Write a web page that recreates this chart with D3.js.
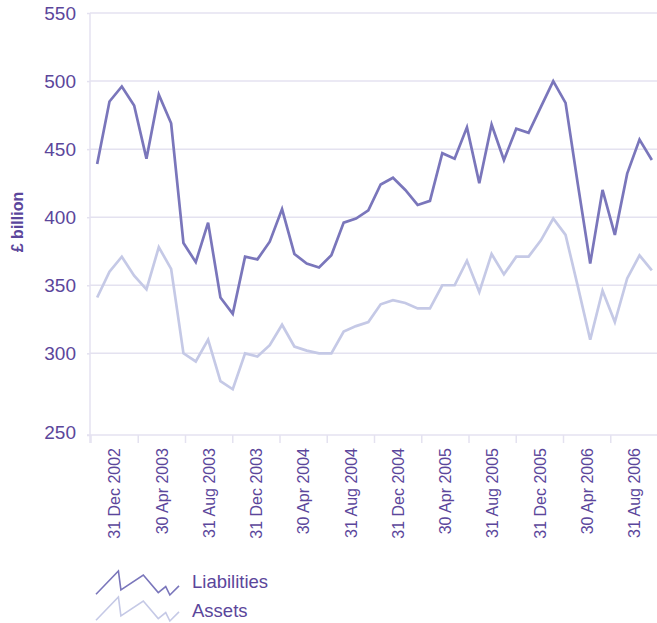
<!DOCTYPE html>
<html>
<head>
<meta charset="utf-8">
<script src="https://cdn.jsdelivr.net/npm/d3@7"></script>
<style>
  body { margin: 0; background: #fff; }
  svg text { font-family: "Liberation Sans", Arial, sans-serif; fill: #5b469b; }
</style>
</head>
<body>
<script>
// monthly liabilities / assets, £ billion

var months = ["2002-11", "2002-12",
  "2003-01", "2003-02", "2003-03", "2003-04", "2003-05", "2003-06",
  "2003-07", "2003-08", "2003-09", "2003-10", "2003-11", "2003-12",
  "2004-01", "2004-02", "2004-03", "2004-04", "2004-05", "2004-06",
  "2004-07", "2004-08", "2004-09", "2004-10", "2004-11", "2004-12",
  "2005-01", "2005-02", "2005-03", "2005-04", "2005-05", "2005-06",
  "2005-07", "2005-08", "2005-09", "2005-10", "2005-11", "2005-12",
  "2006-01", "2006-02", "2006-03", "2006-04", "2006-05", "2006-06",
  "2006-07", "2006-08"];

var liabilities = [439, 485, 496, 482, 443, 490, 469, 381, 367, 396,
  341, 329, 371, 369, 382, 406, 373, 366, 363, 372,
  396, 399, 405, 424, 429, 420, 409, 412, 447, 443,
  466, 425, 468, 442, 465, 462, 481, 500, 484, 424,
  366, 420, 387, 432, 457, 442];

var assets = [341, 360, 371, 357, 347, 378, 362, 300, 295, 310,
  283, 278, 300, 298, 306, 321, 305, 302, 300, 300,
  316, 320, 323, 336, 339, 337, 333, 333, 350, 350,
  368, 345, 373, 358, 371, 371, 383, 399, 387, 349,
  310, 346, 323, 355, 372, 361];

var xLabels = ["31 Dec 2002", "30 Apr 2003", "31 Aug 2003", "31 Dec 2003",
  "30 Apr 2004", "31 Aug 2004", "31 Dec 2004", "30 Apr 2005",
  "31 Aug 2005", "31 Dec 2005", "30 Apr 2006", "31 Aug 2006"];

var yTicks = [250, 300, 350, 400, 450, 500, 550];

var series = [
  {name: "Liabilities", values: liabilities, color: "#7a76bb"},
  {name: "Assets", values: assets, color: "#c5c9e6"}
];

// legend swatch shape (relative units)
var swatch = [[0, 0.97], [0.27, 0], [0.3, 0.79], [0.57, 0.17],
  [0.75, 0.9], [0.84, 0.65], [0.89, 1], [1, 0.62]];

var margin = {top: 13, left: 91},
    width = 567,
    height = 422;

var gridColor = "#e4e2f0";

var svg = d3.select("body").append("svg")
    .attr("width", 657)
    .attr("height", 623)
  .append("g")
    .attr("transform", "translate(" + margin.left + "," + margin.top + ")");

/* scales */
var x = d3.scalePoint().domain(months).range([0, width]).padding(0.5);
var xBand = d3.scaleBand().domain(xLabels).range([0, width]);

// bottom segment 250-300 is squeezed, like the original axis break
var yLin = d3.scaleLinear().domain([240, 550]).range([height, 0]);
var y = d3.scaleLinear().domain([250, 300, 550]).range([height, yLin(300), 0]);

/* gridlines */
svg.append("g")
  .selectAll("line")
  .data(yTicks.slice(1))
  .join("line")
    .attr("x1", -1)
    .attr("x2", width)
    .attr("y1", function(d) { return y(d); })
    .attr("y2", function(d) { return y(d); })
    .attr("stroke", gridColor)
    .attr("stroke-width", 1.5);

// x axis line + ticks between labels
svg.append("line")
    .attr("x1", -4).attr("x2", width)
    .attr("y1", height).attr("y2", height)
    .attr("stroke", gridColor).attr("stroke-width", 1.5);

svg.append("g")
  .selectAll("line")
  .data(xLabels)
  .join("line")
    .attr("x1", function(d) { return xBand(d); })
    .attr("x2", function(d) { return xBand(d); })
    .attr("y1", height)
    .attr("y2", height + 8)
    .attr("stroke", gridColor)
    .attr("stroke-width", 1.5);

// y axis line
svg.append("line")
    .attr("x1", -1).attr("x2", -1)
    .attr("y1", 0).attr("y2", height + 8)
    .attr("stroke", gridColor).attr("stroke-width", 1.5);

/* Y axis */
var yAxis = svg.append("g")
    .call(d3.axisLeft(y).tickValues(yTicks).tickSize(3).tickPadding(12).tickSizeOuter(0));
yAxis.select(".domain").remove();
yAxis.selectAll(".tick line").attr("stroke", gridColor).attr("stroke-width", 1.5).attr("transform", "translate(-1,0)");
yAxis.selectAll(".tick text").style("font-size", "19px");
yAxis.selectAll(".tick").filter(function(d) { return d === 250; })
    .select("text").attr("dy", "0.2em");

/* X axis labels */
var xAxis = svg.append("g")
    .attr("transform", "translate(0," + height + ")")
    .call(d3.axisBottom(xBand).tickSize(0).tickSizeOuter(0));
xAxis.select(".domain").remove();
xAxis.selectAll(".tick text")
    .style("font-size", "16px")
    .attr("text-anchor", "end")
    .attr("x", 0)
    .attr("y", 0)
    .attr("dy", "0.36em")
    .attr("transform", "translate(0,13) rotate(-90)");

/* axis title */
svg.append("text")
    .attr("transform", "translate(" + (17 - margin.left) + "," + (222 - margin.top) + ") rotate(-90)")
    .attr("text-anchor", "middle")
    .attr("dy", "0.35em")
    .style("font-size", "16px")
    .style("font-weight", "bold")
    .text("£ billion");

/* lines */
var line = d3.line()
    .x(function(d, i) { return x(months[i]); })
    .y(function(d) { return y(d); });

svg.selectAll(".series")
  .data(series.slice().reverse())
  .join("path")
    .attr("class", "series")
    .attr("fill", "none")
    .attr("stroke", function(d) { return d.color; })
    .attr("stroke-width", 2.7)
    .attr("stroke-linejoin", "miter")
    .attr("d", function(d) { return line(d.values); });

/* legend */
var sx = d3.scaleLinear().domain([0, 1]).range([5, 88]);
var sy = d3.scaleLinear().domain([0, 1]).range([0, 24]);
var swatchLine = d3.line()
    .x(function(d) { return sx(d[0]); })
    .y(function(d) { return sy(d[1]); });

var legend = svg.append("g")
    .attr("transform", "translate(0," + (571 - margin.top) + ")");

var item = legend.selectAll("g")
  .data(series)
  .join("g")
    .attr("transform", function(d, i) { return "translate(0," + (i * 26) + ")"; });

item.append("path")
    .attr("d", swatchLine(swatch))
    .attr("fill", "none")
    .attr("stroke", function(d) { return d.color; })
    .attr("stroke-width", 1.6);

item.append("text")
    .attr("x", 101)
    .attr("y", function(d, i) { return 17 + i * 2.5; })
    .style("font-size", "18.5px")
    .text(function(d) { return d.name; });
</script>
</body>
</html>
